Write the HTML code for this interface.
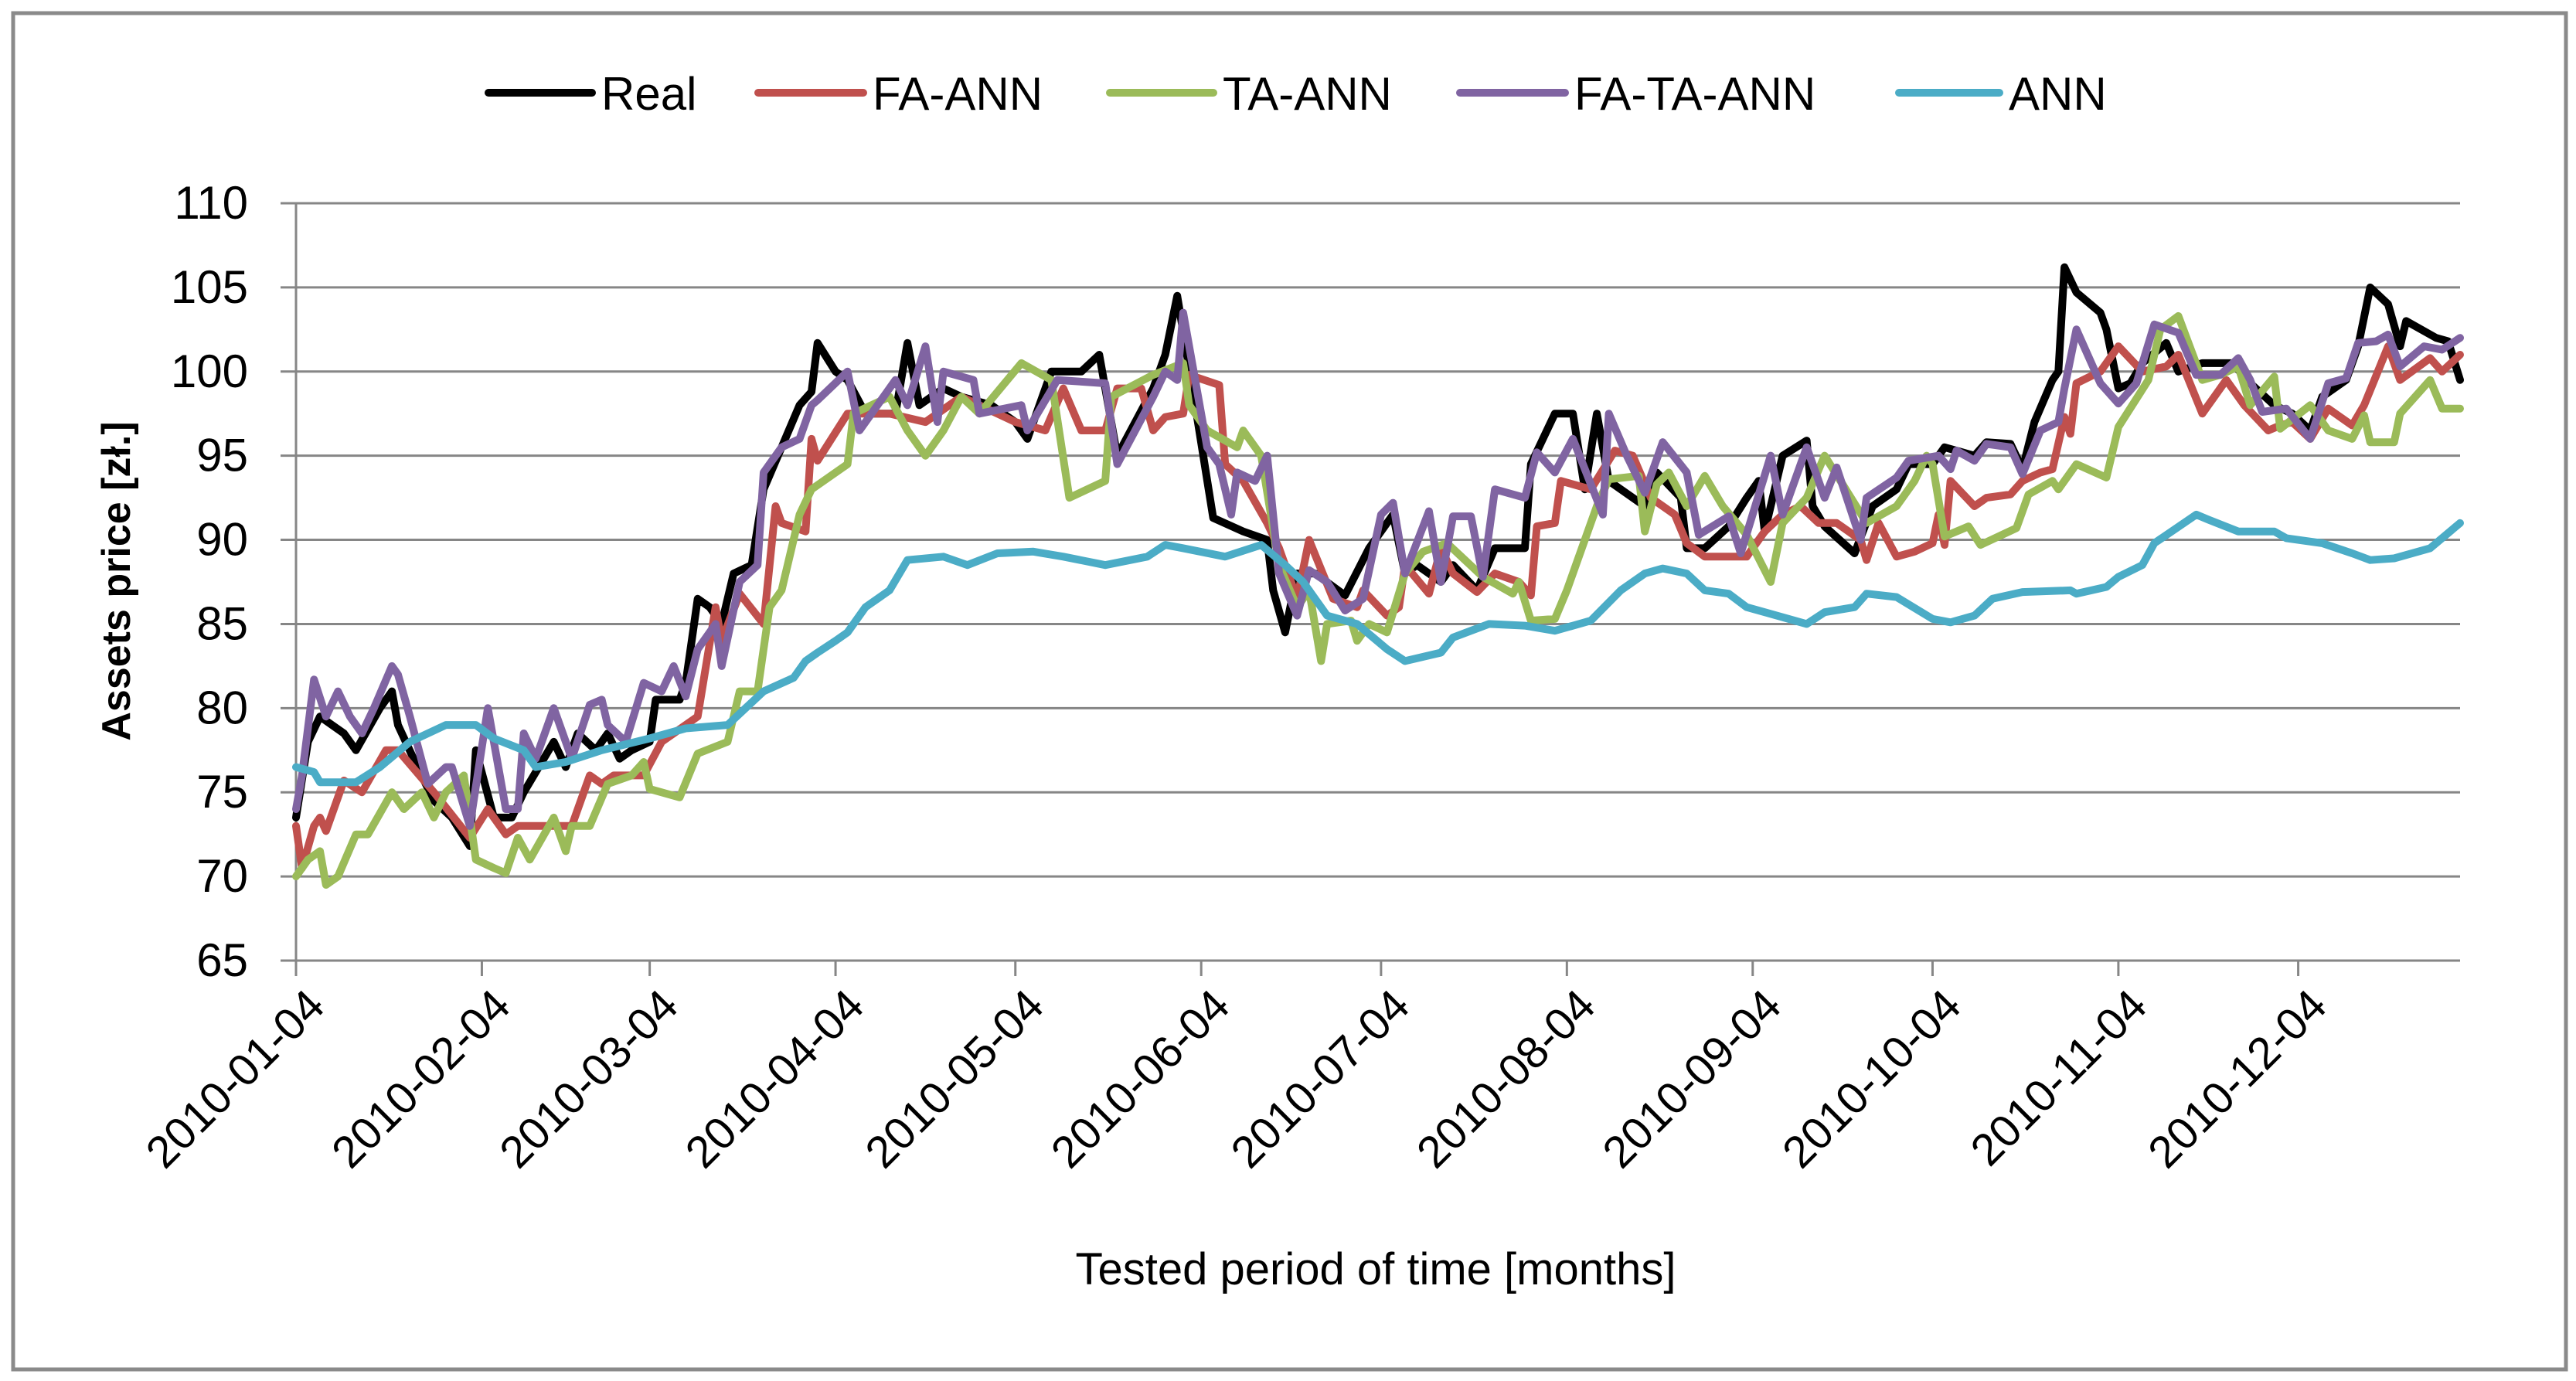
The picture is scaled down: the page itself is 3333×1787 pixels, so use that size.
<!DOCTYPE html>
<html><head><meta charset="utf-8"><style>
html,body{margin:0;padding:0;background:#fff}
svg{display:block;font-family:"Liberation Sans",sans-serif}
</style></head><body>
<svg id="chart" width="3333" height="1787" viewBox="0 0 3333 1787" xmlns="http://www.w3.org/2000/svg">
<rect x="17" y="17" width="3303" height="1755" fill="#fff" stroke="#8a8a8a" stroke-width="5"/>
<g id="grid"></g><g id="axes"></g><g id="series"></g><g id="legend"></g>
<text x="0" y="0" transform="translate(168,752) rotate(-90)" text-anchor="middle" font-size="52" font-weight="bold" fill="#000">Assets price [zł.]</text>
<text x="1780" y="1662" text-anchor="middle" font-size="58" fill="#000">Tested period of time [months]</text>
</svg>
<script>
const monthDays=[0,31,59,90,120,151,181,212,243,273,304,334];
const monthLabels=["2010-01-04","2010-02-04","2010-03-04","2010-04-04","2010-05-04","2010-06-04","2010-07-04","2010-08-04","2010-09-04","2010-10-04","2010-11-04","2010-12-04"];
const yTicks=[65,70,75,80,85,90,95,100,105,110];
const seriesNames=["Real","FA-ANN","TA-ANN","FA-TA-ANN","ANN"];
const realDays=[0,2,4,8,10,14,16,17,20,23,26,29,30,33,36,38,43,45,47,50,52,54,56,59,60,64,65,67,69,71,73,76,78,81,84,86,87,90,92,95,100,102,104,108,111,116,120,122,126,131,134,137,140,143,145,147,150,153,158,162,163,165,167,170,175,179,183,185,187,191,193,197,200,205,206,210,213,215,217,219,225,227,231,232,235,239,242,244,245,248,252,253,255,260,263,267,269,273,275,280,282,286,288,290,293,294,295,297,301,302,304,306,308,312,314,318,323,326,330,333,336,338,342,344,346,349,351,352,357,359,361];
const realVals=[73.5,78,79.5,78.5,77.5,80,81,79,76.7,74.5,73.5,71.8,77.5,73.5,73.5,75,78,76.5,78.5,77.5,78.5,77,77.5,78,80.5,80.5,81.5,86.5,86,85,88,88.5,93,95.5,98,98.8,101.7,100,99.5,97.5,97.5,101.7,98,99,98.5,98,97,96,100,100,101,95,97,99,101,104.5,98,91.3,90.5,90,87,84.5,88,88,86.7,89.5,91.5,88,88.5,87.5,88.5,87,89.5,89.5,94.5,97.5,97.5,93,97.5,93.5,92,94,92.5,89.5,89.5,90.8,92.5,93.5,90.5,95,95.9,92,90.8,89.2,92,93,94.5,94.5,95.5,95,95.8,95.7,94.2,97,99.5,100,106.2,104.7,103.5,102.5,99,99.3,100.5,101.7,100,100.5,100.5,99.3,98,97.5,96.5,98.5,99.5,101.5,105,104,101.5,103,102,101.8,99.5];
const faDays=[0,1,3,4,5,8,11,15,17,23,29,32,35,37,46,49,51,53,58,61,65,67,70,71,74,78,80,81,85,86,87,92,99,105,111,120,125,128,131,135,137,141,143,145,148,149,154,155,158,162,164,167,169,173,177,178,182,184,185,189,191,193,197,200,204,206,207,210,211,216,220,223,226,230,232,235,242,245,248,251,254,257,261,262,264,267,270,273,274,275,276,280,282,286,288,291,293,295,296,297,301,304,308,312,314,318,322,325,329,331,333,336,339,343,345,349,351,356,358,361];
const faVals=[73,70.5,73,73.5,72.7,75.7,75,77.5,77.5,75,72.3,74,72.5,73,73,76,75.5,76,76,78,79,79.5,86,84,86.8,85,92,91,90.5,96,94.7,97.5,97.5,97,98.5,97,96.5,99,96.5,96.5,99,99,96.5,97.3,97.5,99.8,99.2,94.5,93.5,91,89.5,86.5,90,86.5,86,87,85.5,86,88.5,86.8,89.5,88,86.9,88,87.5,86.7,90.8,91,93.5,93,95.3,95,92.5,91.5,89.8,89,89,90.5,91.5,92,91,91,90,88.8,91,89,89.3,89.8,91.5,89.7,93.5,92,92.5,92.7,93.5,94,94.2,97.3,96.3,99.3,100,101.5,100,100.3,101,97.5,99.5,98,96.5,96.8,97,96,97.8,96.8,98,101.5,99.5,100.8,100,101];
const taDays=[0,2,4,5,7,10,12,16,18,21,23,25,28,30,33,35,37,39,43,45,46,49,52,56,58,59,64,67,72,74,77,79,81,84,86,92,93,99,102,105,108,111,114,121,126,129,135,136,143,148,149,152,157,158,161,164,167,169,171,172,176,177,179,182,185,188,192,195,198,203,204,206,210,212,217,219,224,225,227,229,232,235,238,242,246,248,252,255,258,262,267,270,272,273,275,279,281,287,289,293,294,297,302,304,309,311,314,318,321,324,326,330,331,336,339,343,345,346,350,351,356,358,361];
const taVals=[70,71,71.5,69.5,70,72.5,72.5,75,74,75,73.5,75,76,71,70.5,70.2,72.3,71,73.5,71.5,73,73,75.5,76,76.8,75.2,74.7,77.3,78,81,81,86,87,91.5,93,94.5,97.5,98.5,96.5,95,96.5,98.5,97.5,100.5,99.5,92.5,93.5,98.5,99.8,100.5,98,96.5,95.5,96.5,95,88.5,86,87,82.8,85,85.2,84,85,84.5,88,89.3,89.8,88.8,87.8,86.8,87.5,85.2,85.3,87,92,93.6,93.8,90.5,93.3,94,92,93.8,92,90.3,87.5,91,92.5,95,93.3,91,92,93.5,95,94.5,90.2,90.8,89.7,90.7,92.7,93.5,93,94.5,93.7,96.7,99.5,102.5,103.3,99.5,99.8,100.3,98,99.7,96.6,98,96.5,96,97.4,95.8,95.8,97.5,99.5,97.8,97.8];
const fataDays=[0,1,3,5,7,9,11,13,16,17,19,22,25,26,29,32,35,37,38,40,43,46,49,51,52,55,58,61,63,65,67,70,71,74,77,78,81,84,86,87,92,94,96,100,102,105,107,108,113,114,121,122,127,135,137,143,145,147,148,152,154,156,157,160,162,164,167,169,172,175,178,181,183,185,189,191,193,196,198,200,205,207,210,213,218,219,222,225,228,232,234,239,241,246,248,252,255,257,261,262,267,269,274,276,277,280,282,286,288,291,294,295,297,301,304,307,310,314,317,321,324,326,328,332,336,339,342,344,347,349,351,355,358,361];
const fataVals=[74,76,81.7,79.5,81,79.5,78.5,80,82.5,82,79.5,75.5,76.5,76.5,73,80,74,74,78.5,77,80,77,80.2,80.5,79,78,81.5,81,82.5,80.7,83.5,85,82.5,87.5,88.5,94,95.5,96,98,98.3,100,96.5,97.5,99.5,98,101.5,97,100,99.5,97.5,98,96.5,99.5,99.3,94.5,98.5,100,99.5,103.5,95.5,94.5,91.5,94,93.5,95,88,85.5,88.2,87.5,85.8,86.5,91.5,92.2,88,91.7,87.5,91.4,91.4,87.8,93,92.5,95.2,94,96,91.5,97.5,95,92.8,95.8,94,90.3,91.4,89.2,95,91.5,95.5,92.5,94.3,90,92.5,93.7,94.7,95,94.2,95.3,94.7,95.7,95.5,93.9,96.5,97,99,102.5,99.3,98.1,99.3,102.8,102.3,99.8,99.8,100.8,99.5,97.6,97.8,96,99.3,99.6,101.7,101.8,102.2,100.3,101.5,101.3,102];
const annDays=[0,3,4,10,14,19,25,30,33,38,40,45,51,59,65,72,75,78,83,85,87,90,92,95,99,102,108,112,117,123,128,135,142,145,148,155,161,165,168,172,177,182,185,191,193,199,205,210,216,221,225,228,232,235,239,242,245,252,255,260,262,267,273,276,280,283,288,296,297,302,304,308,310,317,319,324,330,332,338,343,346,350,356,361];
const annVals=[76.5,76.2,75.6,75.6,76.5,78,79,79,78.2,77.5,76.5,76.8,77.5,78.2,78.8,79,80,81,81.8,82.8,83.3,84,84.5,86,87,88.8,89,88.5,89.2,89.3,89,88.5,89,89.7,89.5,89,89.7,88.5,87.5,85.5,85,83.5,82.8,83.3,84.2,85,84.9,84.6,85.2,87,88,88.3,88,87,86.8,86,85.7,85,85.7,86,86.8,86.6,85.3,85.1,85.5,86.5,86.9,87,86.8,87.2,87.8,88.5,89.8,91.5,91.2,90.5,90.5,90.1,89.8,89.2,88.8,88.9,89.5,91];

const NS="http://www.w3.org/2000/svg";
const X0=383,X1=3183,Y0=1243,Y1=263,DMAX=361,VMIN=65,VMAX=110;
function xScale(d){return X0+(d/DMAX)*(X1-X0);}
function yScale(v){return Y0-(v-VMIN)/(VMAX-VMIN)*(Y0-Y1);}
function mk(tag,attrs,parent){const e=document.createElementNS(NS,tag);for(const k in attrs)e.setAttribute(k,attrs[k]);parent.appendChild(e);return e;}
const grid=document.getElementById('grid'),axes=document.getElementById('axes'),ser=document.getElementById('series'),leg=document.getElementById('legend');

yTicks.forEach(v=>{
  const y=yScale(v);
  if(v>VMIN){const l=mk('line',{x1:X0,x2:X1,y1:y,y2:y,stroke:'#868686','stroke-width':3},grid);
  
  }
  const t=mk('line',{x1:X0-20,x2:X0,y1:y,y2:y,stroke:'#868686','stroke-width':3},axes);
  
  
  const tx=mk('text',{x:X0-62,y:y+20,'text-anchor':'end','font-size':60,fill:'#000'},axes);
  tx.textContent=v;
  
  
});
const ya=mk('line',{x1:X0,x2:X0,y1:Y1,y2:Y0,stroke:'#868686','stroke-width':3},axes);


const xa=mk('line',{x1:X0,x2:X1,y1:Y0,y2:Y0,stroke:'#868686','stroke-width':3},axes);


monthDays.forEach((d,i)=>{
  const x=xScale(d);
  const t=mk('line',{x1:x,x2:x,y1:Y0,y2:Y0+20,stroke:'#868686','stroke-width':3},axes);
  
  
  const tx=mk('text',{x:0,y:0,'text-anchor':'end','font-size':58,fill:'#000',transform:'translate('+(x+40)+','+(Y0+62)+') rotate(-45)'},axes);
  tx.textContent=monthLabels[i];
  
  
});

const allDays=[realDays,faDays,taDays,fataDays,annDays];
const allVals=[realVals,faVals,taVals,fataVals,annVals];
const colors=["#000000","#C0504D","#9BBB59","#8064A2","#4BACC6"];
allDays.forEach((ds,k)=>{
  const vs=allVals[k];
  const pts=ds.map((d,i)=>xScale(d).toFixed(1)+','+yScale(vs[i]).toFixed(1)).join(' ');
  const p=mk('polyline',{points:pts,fill:'none',stroke:colors[k],'stroke-width':10,'stroke-linejoin':'round','stroke-linecap':'round'},ser);
  
  
});

const legLine=[[632,766],[981,1117],[1436,1570],[1889,2025],[2457,2587]];
seriesNames.forEach((n,k)=>{
  const g=mk('g',{},leg);
  
  
  mk('line',{x1:legLine[k][0],x2:legLine[k][1],y1:120,y2:120,stroke:colors[k],'stroke-width':10,'stroke-linecap':'round'},g);
  const t=mk('text',{x:legLine[k][1]+12,y:142,'font-size':60,fill:'#000'},g);
  t.textContent=n;
});
</script>
</body></html>
